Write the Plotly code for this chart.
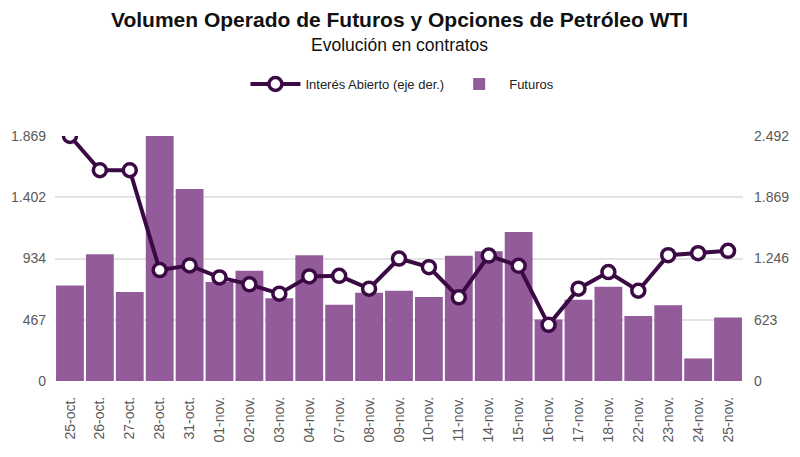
import plotly.graph_objects as go

fechas = ["25-oct.", "26-oct.", "27-oct.", "28-oct.", "31-oct.", "01-nov.",
          "02-nov.", "03-nov.", "04-nov.", "07-nov.", "08-nov.", "09-nov.",
          "10-nov.", "11-nov.", "14-nov.", "15-nov.", "16-nov.", "17-nov.",
          "18-nov.", "22-nov.", "23-nov.", "24-nov.", "25-nov."]

futuros = [729, 967, 679, 1869, 1464, 755, 841, 631, 960, 582, 674, 689,
           641, 955, 990, 1137, 469, 620, 719, 496, 577, 172, 484]

interes_abierto = [2492, 2144, 2144, 1128, 1175, 1054, 983, 888, 1064, 1070,
                   939, 1245, 1158, 851, 1276, 1172, 571, 939, 1108, 918,
                   1280, 1300, 1324]

ticks_izq = [0, 467.25, 934.5, 1401.75, 1869]
etiquetas_izq = ["0", "467", "934", "1.402", "1.869"]
ticks_der = [0, 623, 1246, 1869, 2492]
etiquetas_der = ["0", "623", "1.246", "1.869", "2.492"]

violeta = "#935b99"
morado = "#3b0a45"
gris = "#595959"

fig = go.Figure()
fig.add_trace(go.Scatter(
    x=fechas, y=interes_abierto, name="Interés Abierto (eje der.)",
    yaxis="y2", mode="lines+markers",
    line=dict(color=morado, width=4),
    marker=dict(size=13, color="white", line=dict(color=morado, width=3.5))
))
fig.add_trace(go.Bar(
    x=fechas, y=futuros, name="Futuros",
    marker=dict(color=violeta, line=dict(width=0))
))

fig.add_annotation(text="<b>Volumen Operado de Futuros y Opciones de Petróleo WTI</b>",
                   xref="paper", yref="paper", x=0.5, y=1.475, xanchor="center",
                   yanchor="middle", showarrow=False,
                   font=dict(size=21, color="#111111"))
fig.add_annotation(text="Evolución en contratos",
                   xref="paper", yref="paper", x=0.5, y=1.372, xanchor="center",
                   yanchor="middle", showarrow=False,
                   font=dict(size=17.5, color="#111111"))

# la página deja 8px de margen en body, por eso 792x449
fig.update_layout(
    width=792, height=449,
    paper_bgcolor="white", plot_bgcolor="white",
    font=dict(family="Liberation Sans, Arial, sans-serif", color=gris, size=14),
    legend=dict(orientation="h", x=0.505, xanchor="center", y=1.212, yanchor="middle",
                font=dict(size=13, color="#222222"), itemwidth=50, traceorder="normal"),
    margin=dict(l=47, r=57, t=128, b=76, autoexpand=False),
    bargap=0.07,
    xaxis=dict(tickangle=-90, showgrid=False, showline=False, ticks="",
               automargin=False, tickfont=dict(size=14, color=gris),
               ticklabelstandoff=12, range=[-0.5, 22.5]),
    yaxis=dict(range=[0, 1869], tickvals=ticks_izq, ticktext=etiquetas_izq,
               showgrid=True, gridcolor="#e3e3e3", gridwidth=1.5, zeroline=False,
               ticks="", automargin=False, ticklabelstandoff=8,
               tickfont=dict(size=14, color=gris)),
    yaxis2=dict(range=[0, 2492], tickvals=ticks_der, ticktext=etiquetas_der,
                overlaying="y", side="right", showgrid=False, zeroline=False,
                ticks="", automargin=False, ticklabelstandoff=10,
                tickfont=dict(size=14, color=gris)),
    showlegend=True,
)

fig.write_html("out.html")
